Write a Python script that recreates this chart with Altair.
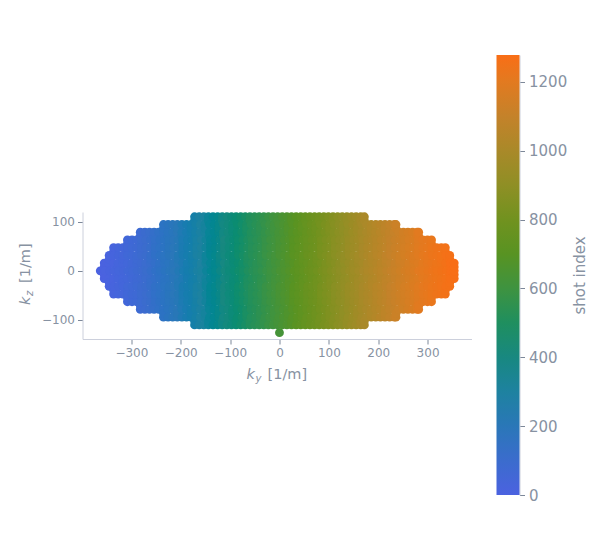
import altair as alt
import numpy as np
import pandas as pd

# k-space sampling table
kz_step = 15.75
ky_step = 9.35
half_row_every = 3
row_index = [0, 1, 2, 3, 4, 5, 6, 7]
row_left = [363, 355, 345, 336, 308, 282, 235, 172]
row_right = [354, 354, 345, 336, 308, 282, 236, 172]
extra_point = (0.0, -126.0)

color_values = [0, 100, 200, 300, 400, 500, 600, 700, 800, 900, 1000, 1100, 1200, 1278]
color_hexes = ["#4b62e0", "#3b6ccd", "#2a77b8", "#1e82a0", "#188880", "#1f8f5f", "#3e9340",
               "#589322", "#71921f", "#8f8f25", "#a98929", "#c4822a", "#e27a20", "#f96e16"]

x_ticks = [-300, -200, -100, 0, 100, 200, 300]
y_ticks = [-100, 0, 100]
bar_ticks = [0, 200, 400, 600, 800, 1000, 1200]

FONT = "DejaVu Sans"
LABEL = "#8792a2"
TICK = "#7d8899"
DOMAIN = "#ccd0dc"


def row_points(l, r, step):
    kys = list(np.arange(-l, r, step))
    if r - kys[-1] > 0.5:
        kys.append(r)
    return kys


pts = []
for n, l, r in zip(row_index, row_left, row_right):
    for sign in ([1] if n == 0 else [1, -1]):
        for ky in row_points(l, r, ky_step):
            pts.append((ky, sign * n * kz_step))
        if n > 0:
            # in-between lines, as wide as the line above them
            for ky in row_points(l, r, ky_step * half_row_every):
                pts.append((ky, sign * (n - 0.5) * kz_step))
pts.append(extra_point)
df = pd.DataFrame(pts, columns=["ky", "kz"]).sort_values(["ky", "kz"]).reset_index(drop=True)
df["shot"] = df.index

X = alt.X("ky:Q", scale=alt.Scale(domain=[-399, 389], nice=False, zero=False),
          axis=alt.Axis(values=x_ticks, title=None, grid=False, labelFont=FONT, labelFontSize=12,
                        labelColor=LABEL, tickColor=TICK, tickSize=5, domainColor=DOMAIN, labelPadding=3))
Y = alt.Y("kz:Q", scale=alt.Scale(domain=[-139, 120], nice=False, zero=False),
          axis=alt.Axis(values=y_ticks, title=None, grid=False, labelFont=FONT, labelFontSize=12,
                        labelColor=LABEL, tickColor=TICK, tickSize=5, domainColor=DOMAIN, labelPadding=3))

points = alt.Chart(df).mark_circle(size=78, opacity=1).encode(
    x=X, y=Y,
    color=alt.Color("shot:Q", legend=None,
                    scale=alt.Scale(domain=color_values, range=color_hexes)),
    order="shot:Q",
)

one = pd.DataFrame({"a": [0]})
def label(text, x, y, size=14.5, style="normal", angle=0):
    return alt.Chart(one).mark_text(text=text, font=FONT, fontSize=size, fontStyle=style, color=LABEL,
                                    align="left", baseline="alphabetic", angle=angle).encode(
        x=alt.value(x), y=alt.value(y))

main = alt.layer(
    points,
    label("k", 164, 167, 14.5, "italic"),
    label("y", 173, 170, 10, "italic"),
    label("[1/m]", 185, 167),
    label("k", -53, 93, 14.5, "italic", 270),
    label("z", -50, 84, 10, "italic", 270),
    label("[1/m]", -53, 71, 14.5, "normal", 270),
).properties(width=389, height=127)

spacer = alt.Chart(one).mark_text(text=" ").encode(
    x=alt.value(0), y=alt.value(0)).properties(width=389, height=157)

bar_df = pd.DataFrame({"v0": [color_values[0]], "v1": [color_values[-1]]})
stops = [alt.GradientStop(offset=v / color_values[-1], color=c) for v, c in zip(color_values, color_hexes)]
bar = alt.Chart(bar_df).mark_rect(
    color=alt.LinearGradient(gradient="linear", stops=stops, x1=0, x2=0, y1=1, y2=0)
).encode(
    x=alt.value(0), x2=alt.value(23),
    y=alt.Y("v0:Q", scale=alt.Scale(domain=[0, 1278], nice=False),
            axis=alt.Axis(orient="right", values=bar_ticks, format="d", title="shot index", titleAngle=270,
                          titleFont=FONT, titleFontSize=15, titleFontWeight="normal", titleColor=LABEL,
                          titlePadding=21, labelFont=FONT, labelFontSize=15, labelColor=LABEL,
                          tickColor=TICK, tickSize=5, domainColor=DOMAIN, grid=False, labelPadding=4)),
    y2="v1:Q",
).properties(width=23, height=440)

left = alt.vconcat(spacer, main, spacing=0).properties(bounds="flush")
chart = alt.hconcat(left, bar, spacing=414).properties(
    bounds="flush", padding={"left": 9.5, "top": 41, "right": 0, "bottom": 0}
).configure_view(stroke=None)

chart.save("out.html", embed_options={"renderer": "svg", "actions": False})
